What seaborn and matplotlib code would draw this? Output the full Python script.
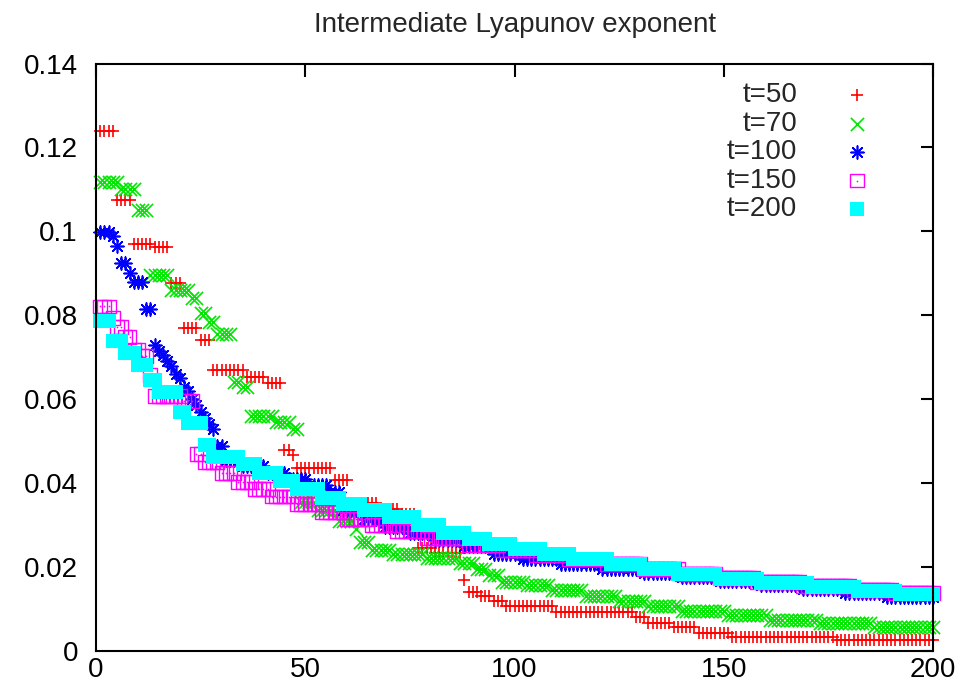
import numpy as np
import pandas as pd
import matplotlib
matplotlib.use("Agg")
import matplotlib.pyplot as plt
from matplotlib.legend_handler import HandlerTuple
import seaborn as sns

# Sorted intermediate Lyapunov exponents for each integration time,
# stored as plateau levels and the number of consecutive indices on each plateau.
t50_levels = [0.1240, 0.1074, 0.0969, 0.0962, 0.0876, 0.0769, 0.0740, 0.0669, 0.0652,
              0.0638, 0.0479, 0.0467, 0.0436, 0.0407, 0.0352, 0.0338, 0.0326, 0.0245,
              0.0233, 0.0169, 0.0140, 0.0131, 0.0119, 0.0106, 0.0092, 0.0081, 0.0067,
              0.0057, 0.0043, 0.0033, 0.0026]
t50_counts = [4, 4, 5, 4, 3, 4, 3, 8, 5, 4, 2, 1, 9, 4, 7, 5, 4, 4, 7, 1, 3, 3, 3, 12,
              19, 3, 6, 6, 8, 25, 24]

t70_levels = [0.1117, 0.1100, 0.1050, 0.0895, 0.0860, 0.0840, 0.0805, 0.0785, 0.0755,
              0.0640, 0.0630, 0.0560, 0.0545, 0.0530, 0.0355, 0.0335, 0.0310, 0.0290,
              0.0260, 0.0240, 0.0230, 0.0222, 0.0210, 0.0195, 0.0180, 0.0165, 0.0158,
              0.0145, 0.0132, 0.0118, 0.0108, 0.0095, 0.0085, 0.0075, 0.0067, 0.0058]
t70_counts = [5, 4, 3, 5, 5, 2, 2, 2, 4, 2, 2, 6, 4, 2, 4, 5, 4, 1, 3, 5, 8, 8, 4, 3,
              3, 6, 6, 8, 8, 7, 8, 11, 10, 12, 13, 15]

t100_levels = [0.0998, 0.0990, 0.0965, 0.0924, 0.0900, 0.0880, 0.0815, 0.0730, 0.0715,
               0.0705, 0.0690, 0.0680, 0.0660, 0.0650, 0.0630, 0.0620, 0.0600, 0.0585,
               0.0570, 0.0555, 0.0540, 0.0530, 0.0488, 0.0455, 0.0440, 0.0425, 0.0410,
               0.0395, 0.0378, 0.0335, 0.0315, 0.0295, 0.0280, 0.0265, 0.0250, 0.0232,
               0.0218, 0.0207, 0.0196, 0.0186, 0.0176, 0.0166, 0.0157, 0.0148, 0.0139,
               0.0128]
t100_counts = [3, 1, 1, 2, 1, 3, 2, 1, 1, 1, 1, 1, 1, 1, 1, 1, 1, 1, 1, 1, 1, 1, 2, 4,
               6, 5, 5, 5, 3, 5, 5, 6, 6, 7, 7, 7, 9, 10, 10, 9, 9, 10, 10, 10, 10, 12]

t150_levels = [0.0821, 0.0793, 0.0771, 0.0748, 0.0717, 0.0702, 0.0657, 0.0607, 0.0595,
               0.0470, 0.0450, 0.0425, 0.0402, 0.0385, 0.0368, 0.0350, 0.0332, 0.0315,
               0.0300, 0.0285, 0.0268, 0.0252, 0.0240, 0.0228, 0.0218, 0.0207, 0.0195,
               0.0184, 0.0174, 0.0164, 0.0155, 0.0146, 0.0139]
t150_counts = [3, 1, 2, 2, 2, 2, 1, 7, 3, 2, 4, 4, 4, 4, 6, 6, 6, 6, 6, 7, 10, 8, 8, 8,
               9, 9, 9, 9, 9, 11, 12, 10, 10]

t200_levels = [0.0786, 0.0738, 0.0710, 0.0681, 0.0645, 0.0617, 0.0569, 0.0543, 0.0490,
               0.0462, 0.0445, 0.0425, 0.0405, 0.0385, 0.0365, 0.0350, 0.0337, 0.0320,
               0.0300, 0.0282, 0.0268, 0.0255, 0.0242, 0.0230, 0.0220, 0.0208, 0.0196,
               0.0184, 0.0172, 0.0162, 0.0153, 0.0144, 0.0136]
t200_counts = [3, 3, 3, 3, 2, 5, 2, 4, 2, 7, 4, 5, 4, 6, 5, 5, 6, 7, 6, 6, 5, 6, 7, 7,
               9, 8, 8, 10, 10, 12, 11, 10, 9]

series_labels = ["t=50", "t=70", "t=100", "t=150", "t=200"]
x_ticks = [0, 50, 100, 150, 200]
x_tick_labels = ["0", "50", "100", "150", "200"]
y_ticks = [0, 0.02, 0.04, 0.06, 0.08, 0.10, 0.12, 0.14]
y_tick_labels = ["0", "0.02", "0.04", "0.06", "0.08", "0.1", "0.12", "0.14"]

runs = [(t50_levels, t50_counts), (t70_levels, t70_counts), (t100_levels, t100_counts),
        (t150_levels, t150_counts), (t200_levels, t200_counts)]

frames = []
for label, (levels, counts) in zip(series_labels, runs):
    values = np.repeat(levels, counts)
    frames.append(pd.DataFrame({"index": np.arange(1, len(values) + 1),
                                "exponent": values, "t": label}))
df = pd.concat(frames, ignore_index=True)

sns.set_style("white")
plt.rcParams["font.family"] = ["Liberation Sans", "DejaVu Sans"]

fig, ax = plt.subplots(figsize=(9.77, 6.94), dpi=100)
fig.subplots_adjust(left=0.0983, right=0.955, bottom=0.062, top=0.9085)

styles = {
    "t=50": dict(marker="+", color="#ff0000", s=85, linewidth=1.2),
    "t=70": dict(marker="x", color="#00e600", s=90, linewidth=1.2),
    "t=100": dict(marker=(8, 2, 0), color="#0000ff", s=85, linewidth=1.2),
    "t=150": dict(marker="s", facecolor="none", edgecolor="#ff00ff", s=100, linewidth=1.0),
    "t=200": dict(marker="s", color="#00ffff", s=100, linewidth=0),
}

handles = []
for label in series_labels:
    sub = df[df["t"] == label]
    sns.scatterplot(data=sub, x="index", y="exponent", ax=ax, clip_on=False,
                    legend=False, **styles[label])
    handle = ax.collections[-1]
    if label == "t=150":
        # small centre dot inside each open box
        sns.scatterplot(data=sub, x="index", y="exponent", ax=ax, clip_on=False,
                        legend=False, marker="o", s=1.5, color="#ff00ff", linewidth=0)
        handle = (handle, ax.collections[-1])
    handles.append(handle)

ax.set_xlim(0, 200)
ax.set_ylim(0, 0.14)
ax.set_xticks(x_ticks, x_tick_labels)
ax.set_yticks(y_ticks, y_tick_labels)
ax.set_xlabel("")
ax.set_ylabel("")
ax.tick_params(axis="both", direction="in", length=9, width=1.5, top=True, right=True,
               labelsize=20, colors="black")
ax.tick_params(axis="x", pad=4)
ax.tick_params(axis="y", pad=13)
for spine in ax.spines.values():
    spine.set_visible(True)
    spine.set_color("black")
    spine.set_linewidth(1.5)

ax.set_title("Intermediate Lyapunov exponent", fontsize=20, pad=23)

ax.legend(handles, series_labels, markerfirst=False, frameon=False, fontsize=20,
          loc="upper right", bbox_to_anchor=(0.926, 0.968), borderpad=0,
          borderaxespad=0, handlelength=1.0, handletextpad=1.66, labelspacing=0.09,
          handler_map={tuple: HandlerTuple(ndivide=1)})

fig.savefig("out.png", dpi=100)
